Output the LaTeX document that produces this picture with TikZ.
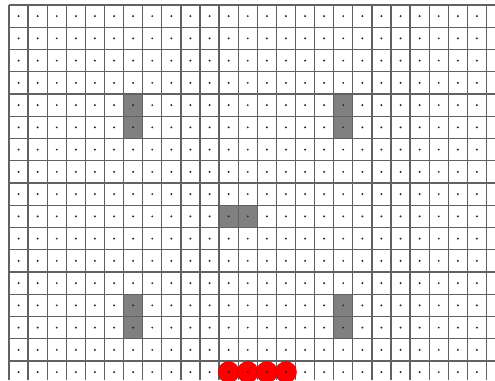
\documentclass[tikz,border=0pt]{standalone}
\begin{document}
\begin{tikzpicture}[x=1pt,y=-1pt,
  gridline/.style={draw=black!62, line width=1.3pt},
  blockcell/.style={fill=black!50},
  dotmark/.style={fill=black!85},
  redball/.style={fill=red, draw=red!80!black, line width=0.4pt}]
\useasboundingbox (0,0) rectangle (495,380);
\clip (0,0) rectangle (495,380);
\def\cw{19.1}
\def\rh{22.25}
% gray blocks
\foreach \c/\r/\w/\h in {6/4/1/2, 17/4/1/2, 11/9/2/1, 6/13/1/2, 17/13/1/2}
  \fill[blockcell] ({9+\c*\cw},{5+\r*\rh}) rectangle ({9+(\c+\w)*\cw},{5+(\r+\h)*\rh});
% grid lines
\foreach \i in {0,...,26}
  \draw[gridline] ({9+\i*\cw},5) -- ({9+\i*\cw},380);
\foreach \j in {0,...,17}
  \draw[gridline] (9,{5+\j*\rh}) -- (495,{5+\j*\rh});
% red balls
\foreach \c in {11,...,14}
  \filldraw[redball] ({9+(\c+0.5)*\cw},{5+16.5*\rh}) circle (10.6pt);
% dots
\foreach \i in {0,...,25}
  \foreach \j in {0,...,16}
    \fill[dotmark] ({9+(\i+0.5)*\cw},{5+(\j+0.5)*\rh}) circle (1.1pt);
\end{tikzpicture}
\end{document}
